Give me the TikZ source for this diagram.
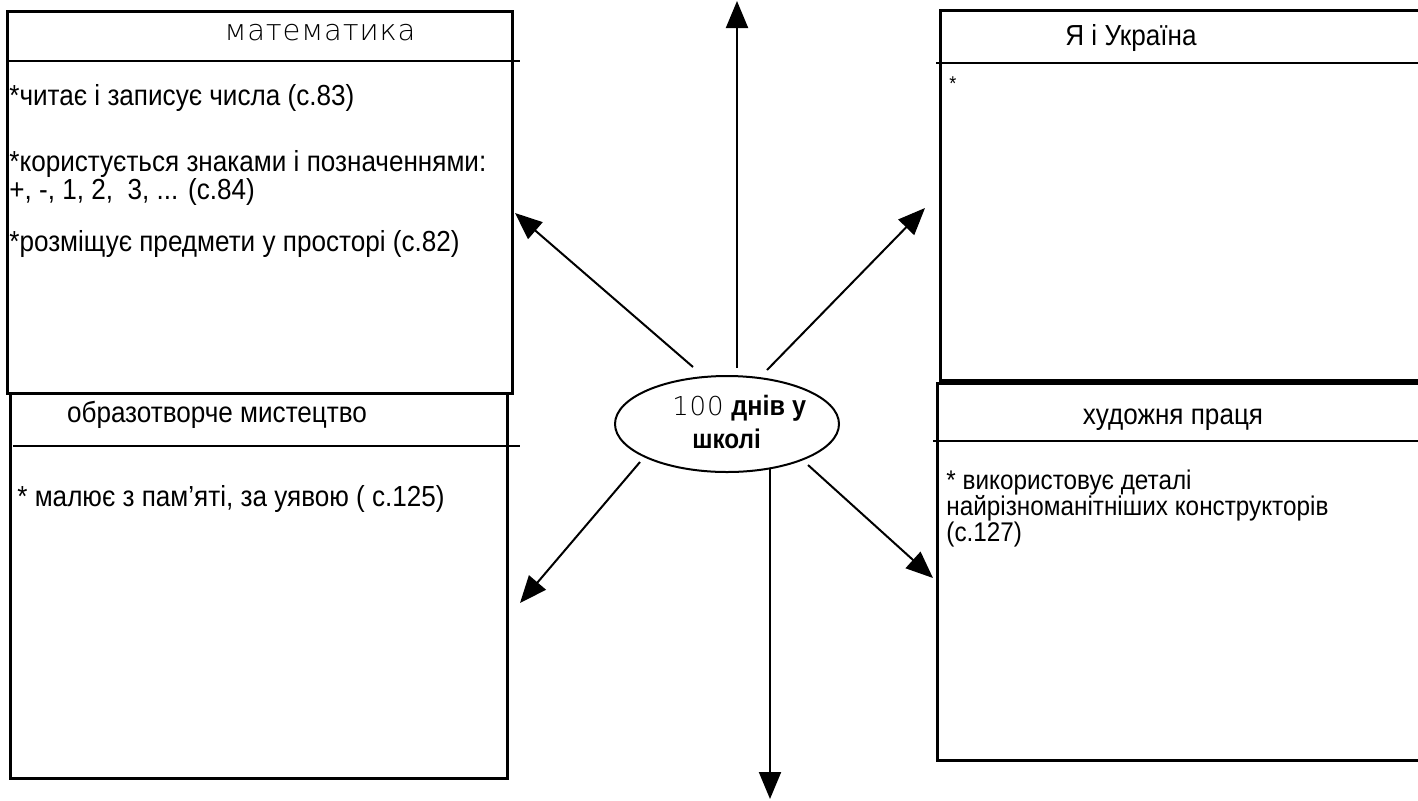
\documentclass[tikz,border=0pt]{standalone}
\usepackage{fontspec}
\setmainfont{Liberation Sans}[FakeStretch=0.9]
\newfontfamily\thinfont{DejaVu Sans ExtraLight}[LetterSpace=3]
\usetikzlibrary{arrows.meta,shapes.geometric}
\begin{document}
\begin{tikzpicture}[x=0.5pt,y=-0.5pt,
  box/.style={draw, line width=1.5pt, inner sep=0, outer sep=0},
  hline/.style={line width=1pt},
  arr/.style={line width=1pt, -{Triangle[length=13.5pt,width=11pt]}},
  txt/.style={anchor=base west, inner sep=0, align=left, font=\fontsize{14.5}{13.6}\selectfont},
  ctxt/.style={anchor=base west, inner sep=0, align=left, font=\fontsize{13.5}{12.9}\selectfont},
  head/.style={anchor=base, inner sep=0, font=\fontsize{14.5}{16}\selectfont},
  thinhead/.style={anchor=base, inner sep=0, font=\thinfont\fontsize{14.5}{16}\selectfont},
  oval/.style={draw, ellipse, line width=1pt, minimum width=112pt, minimum height=48pt, inner sep=0}
]
\useasboundingbox (0,0) rectangle (1418,800);
\clip (0,0) rectangle (1418,800);

% boxes
\node[box, minimum width=252.5pt, minimum height=191pt] (mathbox) at (259.5,202) {};
\node[box, minimum width=248.5pt, minimum height=192.5pt] (artbox) at (258.5,585.5) {};
\node[box, minimum width=250pt, minimum height=185pt] (ukrbox) at (1190,195) {};
\node[box, minimum width=251.5pt, minimum height=188.5pt] (craftbox) at (1188.5,571.5) {};

% header lines
\coordinate (mh1) at (7,61);   \coordinate (mh2) at (520,61);
\coordinate (ah1) at (13,446); \coordinate (ah2) at (520,446);
\coordinate (uh1) at (936,63); \coordinate (uh2) at (1418,63);
\coordinate (ch1) at (933,441); \coordinate (ch2) at (1418,441);
\draw[hline] (mh1) -- (mh2);
\draw[hline] (ah1) -- (ah2);
\draw[hline] (uh1) -- (uh2);
\draw[hline] (ch1) -- (ch2);

% headers
\node[thinhead] (mathtitle) at (320,40) {математика};
\node[head] (arttitle) at (217,422) {образотворче мистецтво};
\node[head] (ukrtitle) at (1131,45) {Я і Україна};
\node[head] (crafttitle) at (1173,424) {художня праця};

% math content
\node[txt] (m1) at (9,105) {*читає і записує числа (с.83)};
\node[txt] (m2) at (9,199) {*користується знаками і позначеннями:\\+, -, 1, 2,\ \ 3, ... (с.84)};
\node[txt] (m4) at (9,251) {*розміщує предмети у просторі (с.82)};

% art content
\node[txt] (a1) at (17,506) {* малює з пам’яті, за уявою ( с.125)};

% ukraine content
\node[txt, font=\fontsize{10}{12}\selectfont] (u1) at (949,90) {*};

% craft content
\node[ctxt] (c1) at (946,541) {* використовує деталі\\найрізноманітніших конструкторів\\(с.127)};

% centre
\node[oval] (centre) at (727,424) {};
\node[anchor=base west, inner sep=0, font=\fontsize{14}{16}\selectfont] (cl1) at (672,415)
  {{\thinfont\fontsize{13}{15}\selectfont 100} \textbf{днів у}};
\node[anchor=base west, inner sep=0, font=\fontsize{13.5}{16}\selectfont\bfseries] (cl2) at (692,448) {школі};

% arrows
\coordinate (upS) at (737,368);  \coordinate (upE) at (737,1);
\coordinate (dnS) at (770,468);  \coordinate (dnE) at (770,799);
\coordinate (ulS) at (693,367);  \coordinate (ulE) at (515,213);
\coordinate (urS) at (767,370);  \coordinate (urE) at (925,208);
\coordinate (llS) at (640,462);  \coordinate (llE) at (520,603);
\coordinate (lrS) at (808,465);  \coordinate (lrE) at (933,578);
\draw[arr] (upS) -- (upE);
\draw[arr] (dnS) -- (dnE);
\draw[arr] (ulS) -- (ulE);
\draw[arr] (urS) -- (urE);
\draw[arr] (llS) -- (llE);
\draw[arr] (lrS) -- (lrE);
\end{tikzpicture}
\end{document}
